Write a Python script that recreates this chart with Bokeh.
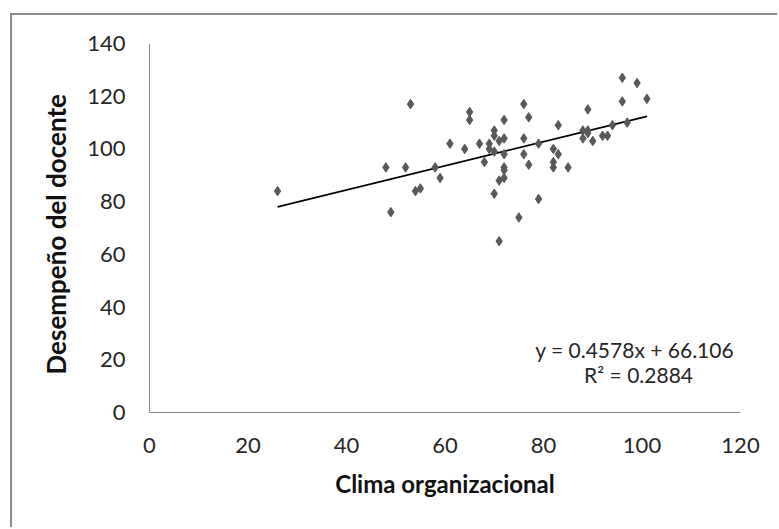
from bokeh.plotting import figure
from bokeh.models import Label, FixedTicker, Range1d
from bokeh.embed import file_html
from bokeh.resources import INLINE

# Data
clima = [26, 48, 49, 52, 53, 54, 55, 58, 59, 61, 64, 65, 65, 67, 68, 69, 69, 70, 70, 70,
         70, 71, 71, 71, 72, 72, 72, 72, 72, 72, 75, 76, 76, 76, 77, 77, 79, 79, 82, 82,
         82, 83, 83, 85, 88, 88, 89, 89, 89, 90, 92, 93, 94, 96, 96, 97, 99, 101]
desempeno = [84, 93, 76, 93, 117, 84, 85, 93, 89, 102, 100, 114, 111, 102, 95, 102, 100, 99, 107, 105,
             83, 103, 88, 65, 104, 111, 98, 93, 92, 89, 74, 117, 104, 98, 112, 94, 102, 81, 100, 95,
             93, 109, 98, 93, 107, 104, 115, 107, 106, 103, 105, 105, 109, 127, 118, 110, 125, 119]

slope = 0.4578
intercept = 66.106
eq_text = "y = 0.4578x  + 66.106"
r2_text = "R² = 0.2884"

x_ticks = [0, 20, 40, 60, 80, 100, 120]
y_ticks = [0, 20, 40, 60, 80, 100, 120, 140]

trend_x = [min(clima), max(clima)]
trend_y = [intercept + slope * v for v in trend_x]

p = figure(width=767, height=514, output_backend="svg", toolbar_location=None,
           x_range=Range1d(0, 120), y_range=Range1d(0, 140),
           min_border_left=137, min_border_right=39, min_border_top=28, min_border_bottom=117)
p.styles = {"margin-left": "10px", "margin-top": "13px",
            "border-left": "2px solid #8c8c8c", "border-top": "2px solid #8c8c8c"}

p.outline_line_color = None
p.xgrid.grid_line_color = None
p.ygrid.grid_line_color = None
p.background_fill_color = "white"
p.border_fill_color = "white"

p.line(trend_x, trend_y, line_color="black", line_width=1.6)
p.scatter(clima, desempeno, marker="diamond", size=9.5, fill_color="#595959", line_color="#595959")

for ax in (p.xaxis[0], p.yaxis[0]):
    ax.axis_line_color = "#8a8a8a"
    ax.axis_line_width = 1
    ax.major_tick_line_color = None
    ax.minor_tick_line_color = None
    ax.major_tick_out = 0
    ax.major_tick_in = 0
    ax.major_label_text_font = "Lato"
    ax.major_label_text_font_size = "22px"
    ax.major_label_text_color = "#262626"
    ax.axis_label_text_font = "Lato"
    ax.axis_label_text_font_style = "bold"
    ax.axis_label_text_font_size = "24px"
    ax.axis_label_text_color = "#111111"

p.yaxis.axis_label_text_font_size = "26px"
p.xaxis.ticker = FixedTicker(ticks=x_ticks)
p.yaxis.ticker = FixedTicker(ticks=y_ticks)
p.xaxis.major_label_standoff = 25
p.yaxis.major_label_standoff = 24
p.xaxis.axis_label = "Clima organizacional"
p.yaxis.axis_label = "Desempeño  del  docente"
p.xaxis.axis_label_standoff = 13
p.yaxis.axis_label_standoff = 12

p.add_layout(Label(x=119.8, y=23.9, text=eq_text, text_align="right", text_baseline="middle",
                   text_font="Lato", text_font_size="21px", text_color="#262626"))
p.add_layout(Label(x=99.3, y=14.4, text=r2_text, text_align="center", text_baseline="middle",
                   text_font="Lato", text_font_size="21px", text_color="#262626"))

open("out.html", "w").write(file_html(p, INLINE))
